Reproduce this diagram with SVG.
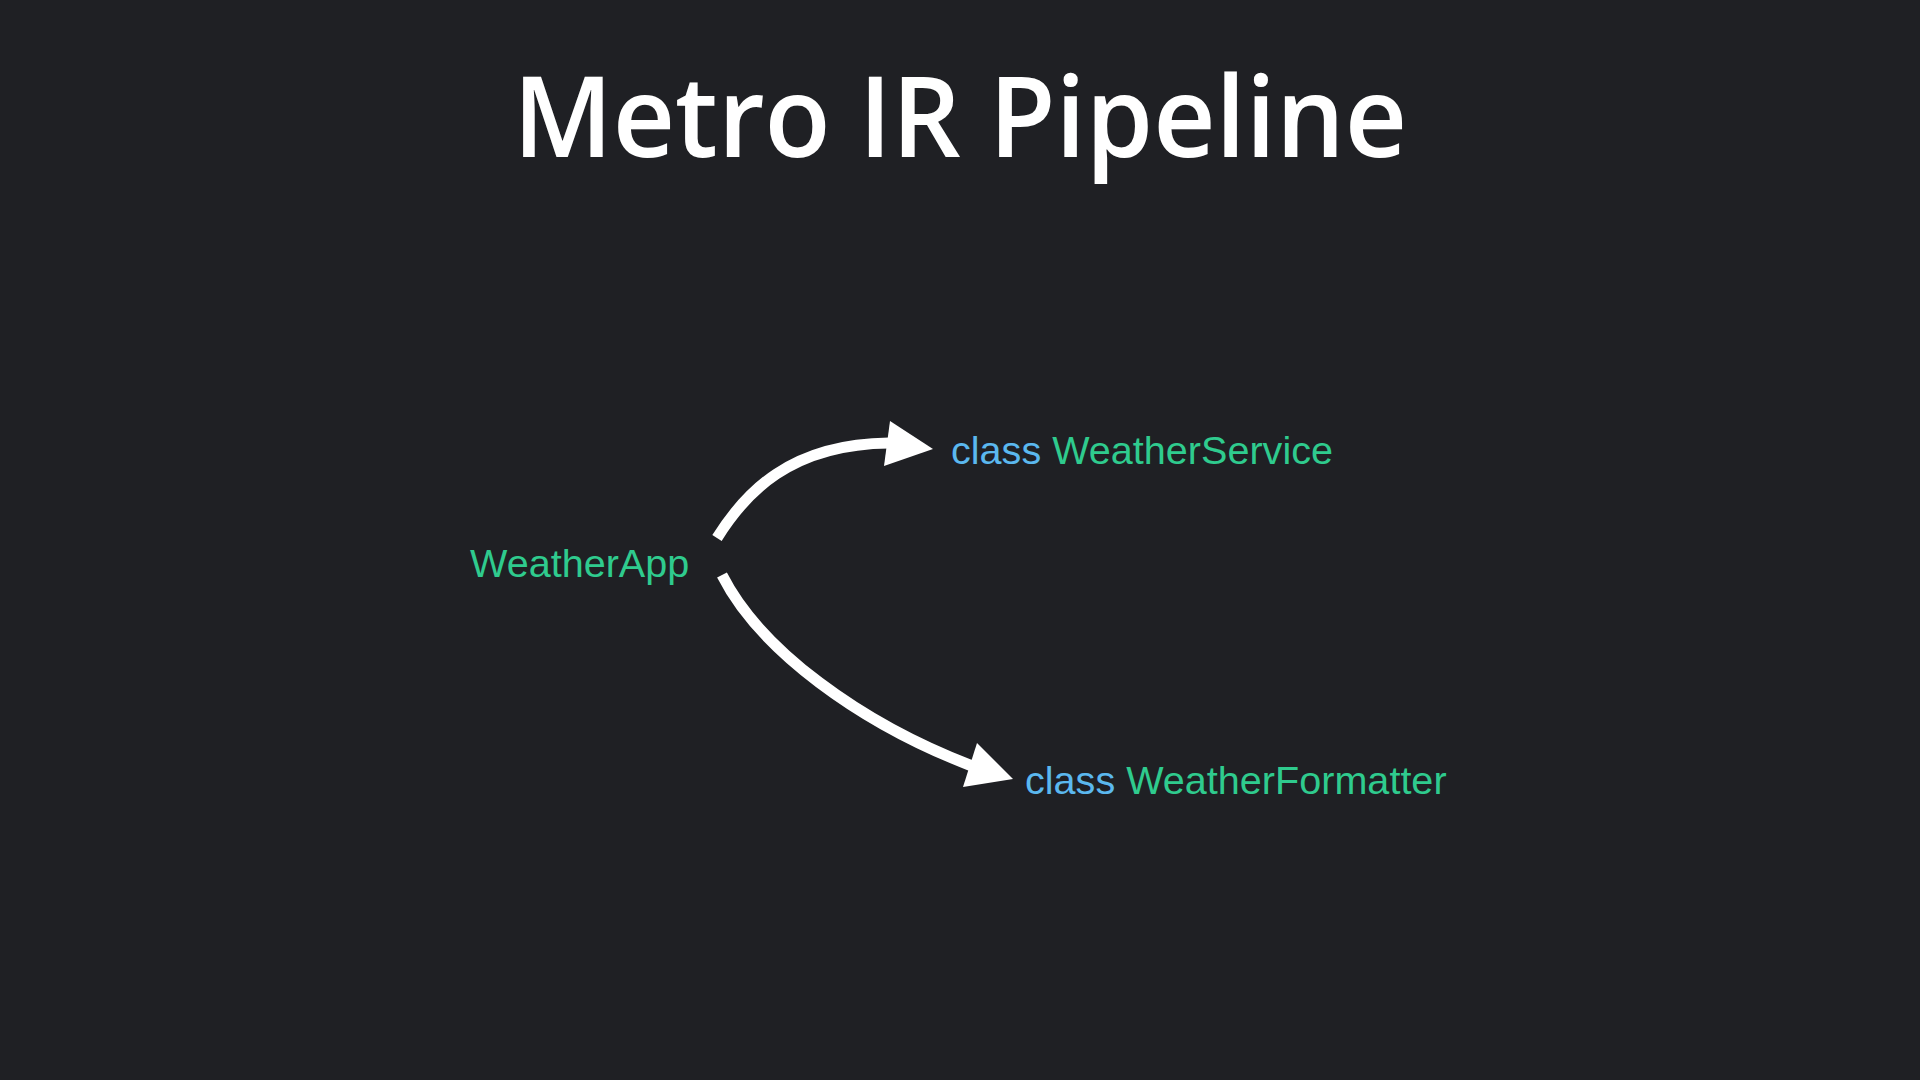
<svg xmlns="http://www.w3.org/2000/svg" width="1920" height="1080" viewBox="0 0 1920 1080">
<style>
.title{font-family:"Open Sans","Noto Sans",sans-serif;font-weight:600;font-size:112px;fill:#ffffff}
.lbl{font-family:"Liberation Sans",Arial,sans-serif;font-size:39.6px}
.kw{fill:#5bb8ef}
.nm{fill:#2fcb8e}
.edge{fill:none;stroke:#ffffff;stroke-width:11;stroke-linecap:butt}
.head{fill:#ffffff}
</style>
<rect width="1920" height="1080" fill="#1f2024"/>
<text class="title" x="960" y="157" text-anchor="middle" textLength="894" lengthAdjust="spacingAndGlyphs">Metro IR Pipeline</text>
<g id="node-weatherapp">
<text class="lbl nm" x="470" y="577">WeatherApp</text>
</g>
<g id="node-weatherservice">
<text class="lbl" x="951" y="464"><tspan class="kw">class</tspan> <tspan class="nm">WeatherService</tspan></text>
</g>
<g id="node-weatherformatter">
<text class="lbl" x="1025" y="794"><tspan class="kw">class</tspan> <tspan class="nm">WeatherFormatter</tspan></text>
</g>
<g id="connectors">
<path class="edge" d="M 717 538 C 745 493, 790 444, 889 443"/>
<polygon class="head" points="890,421 933,449 884,466"/>
<path class="edge" d="M 722 575 C 760 650, 860 723, 972 766"/>
<polygon class="head" points="977,743 1013,779 963,787"/>
</g>
</svg>
